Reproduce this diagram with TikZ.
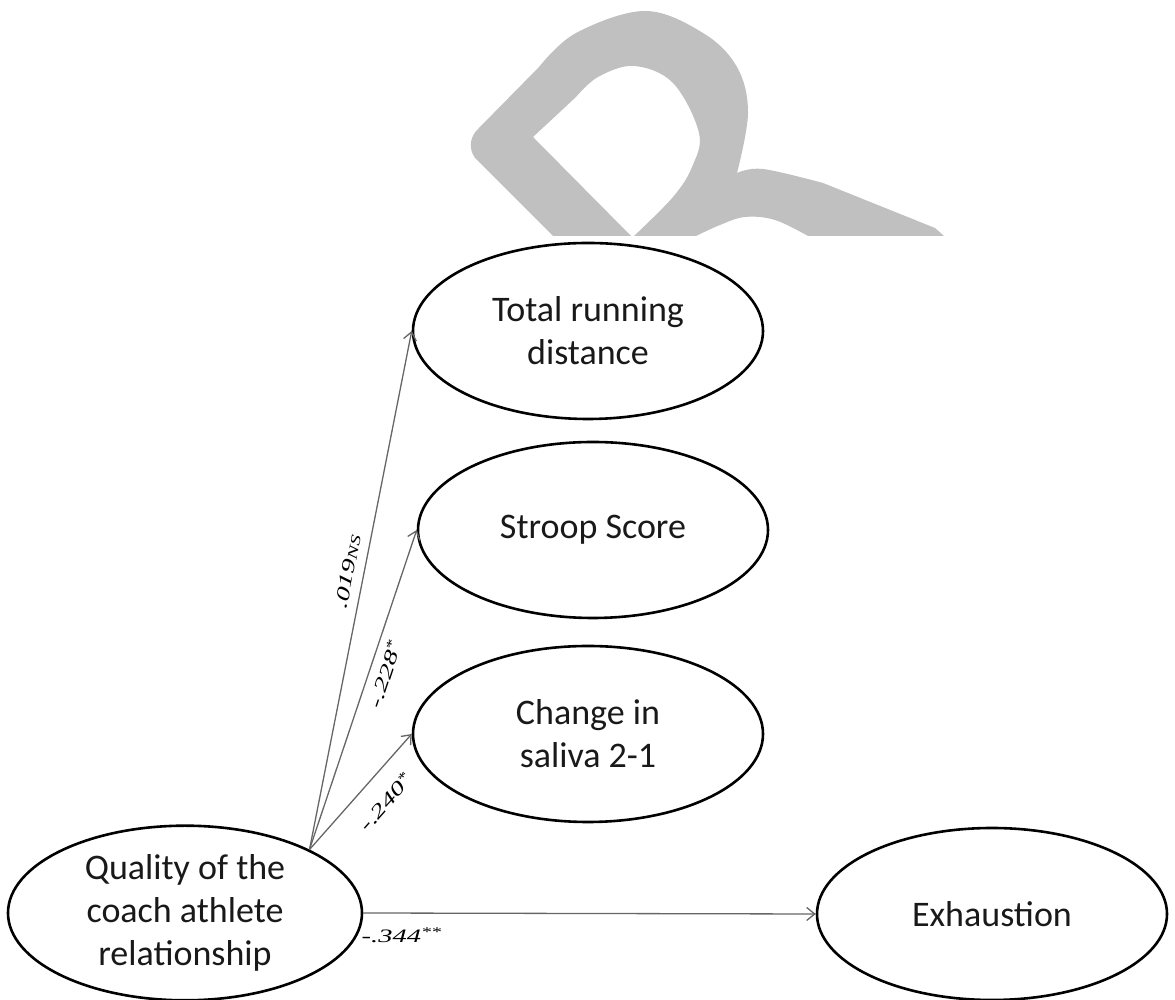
\documentclass[tikz,border=0pt]{standalone}
\usepackage{graphicx}
\usepackage{fontspec}
\setmainfont{Carlito}
\newfontfamily\coefffont{Liberation Serif}
\usetikzlibrary{shapes.geometric,arrows.meta}
\definecolor{wmgray}{RGB}{192,192,192}
\tikzset{
  latent/.style={draw,line width=2.6pt,ellipse,minimum width=350pt,minimum height=176pt,
    align=center,text=black!90,font=\fontsize{36}{43}\selectfont},
  effect/.style={draw=black!60,line width=1.3pt,-{Straight Barb[length=8pt,width=13pt]}},
  coeff/.style={sloped,inner sep=2pt,font=\coefffont\itshape\fontsize{19}{22}\selectfont}
}
\newcommand{\wide}[1]{\scalebox{1.5}[1]{#1}}

\begin{document}
\begin{tikzpicture}[x=1pt,y=1pt]
\useasboundingbox (0,0) rectangle (1175,1000);
% watermark
\fill[wmgray] (553,764) -- (475,842) .. controls (468,852) and (470,864) .. (479,872) -- (539,933)
  -- plot[smooth,tension=0.6] coordinates {(539,933) (576,967) (645,989) (703,967) (737,933) (748,887) (737,827)}
  -- plot[smooth,tension=0.6] coordinates {(737,827) (763,831) (823,817)} -- (935,772) -- (944,764) -- (808,764)
  -- plot[smooth,tension=0.6] coordinates {(808,764) (775,780) (745,783) (720,775) (696,764)} -- (634,764)
  -- plot[smooth,tension=0.6] coordinates {(634,764) (673,803) (692,833) (699,867) (673,917) (634,934) (598,923) (576,903)}
  -- (533,863) -- (631,764) -- cycle;
\node[latent] (total) at (588,669) {Total running\\distance};
\node[latent] (stroop) at (593,470) {Stroop Score};
\node[latent] (saliva) at (588,266) {Change in\\saliva 2-1};
\node[latent,minimum width=354pt,minimum height=168pt] (quality) at (185,87) {Quality of the\\coach athlete\\relationship};
\node[latent,minimum height=172pt] (exhaust) at (992,86) {Exhaustion};
\draw[effect] (quality.27) -- (total.west) node[coeff,pos=0.53,above=7pt] {\wide{.019{\fontsize{14}{14}\selectfont NS}}};
\draw[effect] (quality.27) -- (stroop.west) node[coeff,pos=0.565,below=5pt] {\wide{-.228\textsuperscript{*}}};
\draw[effect] (quality.27) -- (saliva.west) node[coeff,pos=0.56,below=15pt] {\wide{-.240\textsuperscript{*}}};
\draw[effect] (quality.east) -- (exhaust.west) node[coeff,pos=0.085,below=12pt] {\wide{-.344\textsuperscript{**}}};
\end{tikzpicture}
\end{document}
